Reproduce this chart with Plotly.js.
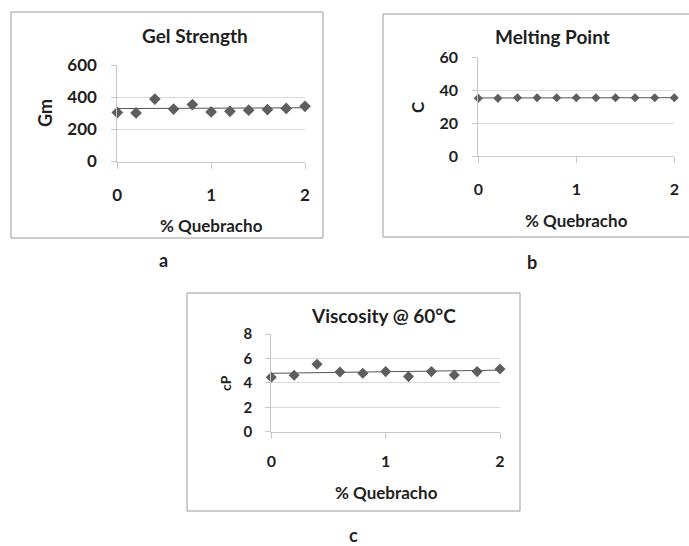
<!DOCTYPE html>
<html>
<head>
<meta charset="utf-8">
<script src="https://cdn.plot.ly/plotly-3.0.1.min.js"></script>
<style>html,body{margin:0;padding:0;background:#fff;}#chart{width:689px;height:546px;}</style>
</head>
<body>
<div id="chart"></div>
<script>
// ---- data ----
const quebracho = [0, 0.2, 0.4, 0.6, 0.8, 1.0, 1.2, 1.4, 1.6, 1.8, 2.0];
const gelStrength = [304, 302, 388, 326, 354, 308, 312, 319, 323, 330, 343];
const meltingPoint = [35.2, 35.2, 35.6, 35.6, 35.6, 35.6, 35.6, 35.6, 35.6, 35.6, 35.6];
const viscosity = [4.46, 4.62, 5.52, 4.89, 4.78, 4.92, 4.51, 4.92, 4.65, 4.92, 5.14];
const trendX = [0, 2];
const gelTrend = [329, 334];
const meltTrend = [35.4, 35.6];
const viscTrend = [4.78, 5.04];
const titles = ['Gel Strength', 'Melting Point', 'Viscosity @ 60°C'];
const yTitles = ['Gm', 'C', 'cP'];
const xTitle = '% Quebracho';
const panelLabels = ['a', 'b', 'c'];

// ---- layout helpers ----
const W = 689, H = 546;
const px = v => v / W;
const py = v => 1 - v / H;
const FONT = 'Lato, "Open Sans", sans-serif';
const TXT = '#1f1f1f';
const MK = '#5e5e5e';

function pts(x, y, xa, ya, size) {
  return {x: x, y: y, xaxis: xa, yaxis: ya, type: 'scatter', mode: 'markers', cliponaxis: false,
    marker: {symbol: 'diamond', size: size, color: MK}, hoverinfo: 'skip', showlegend: false};
}
function trend(y, xa, ya) {
  return {x: trendX, y: y, xaxis: xa, yaxis: ya, type: 'scatter', mode: 'lines', cliponaxis: false,
    line: {color: '#555', width: 1}, hoverinfo: 'skip', showlegend: false};
}
const data = [
  trend(gelTrend, 'x', 'y'), pts(quebracho, gelStrength, 'x', 'y', 9),
  trend(meltTrend, 'x2', 'y2'), pts(quebracho, meltingPoint, 'x2', 'y2', 7),
  trend(viscTrend, 'x3', 'y3'), pts(quebracho, viscosity, 'x3', 'y3', 8.5)
];

function xAx(dom, anchor, fs, standoff) {
  return {domain: dom, anchor: anchor, range: [0, 2], dtick: 1, tick0: 0, showgrid: false, zeroline: false,
    showline: true, linecolor: '#c8c8c8', linewidth: 1, ticks: 'outside', ticklen: 6, tickcolor: '#c8c8c8',
    ticklabelstandoff: standoff, tickfont: {family: FONT, size: fs, color: TXT, weight: 'bold'}, fixedrange: true};
}
function yAx(dom, anchor, range, dtick, fs, standoff) {
  return {domain: dom, anchor: anchor, range: range, dtick: dtick, tick0: 0, showgrid: true, gridcolor: '#dadada',
    gridwidth: 1, zeroline: false, showline: true, linecolor: '#c8c8c8', linewidth: 1, ticks: 'outside',
    ticklen: 5, tickcolor: '#c8c8c8', ticklabelstandoff: standoff,
    tickfont: {family: FONT, size: fs, color: TXT, weight: 'bold'}, fixedrange: true};
}

function ann(text, x, y, size, angle) {
  return {text: text, x: px(x), y: py(y), xref: 'paper', yref: 'paper', showarrow: false,
    xanchor: 'center', yanchor: 'middle', textangle: angle || 0,
    font: {family: FONT, size: size, color: TXT, weight: 'bold'}};
}

function box(x0, y0, x1, y1) {
  return {type: 'rect', xref: 'paper', yref: 'paper', x0: px(x0), x1: px(x1), y0: py(y1), y1: py(y0),
    line: {color: '#9a9a9a', width: 1}, fillcolor: 'rgba(0,0,0,0)', layer: 'below'};
}

const layout = {
  width: W, height: H, margin: {l: 0, r: 0, t: 0, b: 0}, paper_bgcolor: '#fff', plot_bgcolor: 'rgba(0,0,0,0)',
  showlegend: false,
  xaxis: xAx([px(117.3), px(305)], 'y', 17, 12),
  yaxis: yAx([py(161.5), py(65)], 'x', [0, 600], 200, 17, 11),
  xaxis2: xAx([px(478.3), px(674.3)], 'y2', 16, 13),
  yaxis2: yAx([py(156), py(57.7)], 'x2', [0, 60], 20, 16, 11),
  xaxis3: xAx([px(271.3), px(500)], 'y3', 16, 9),
  yaxis3: yAx([py(431.7), py(334)], 'x3', [0, 8], 2, 15, 10),
  shapes: [box(11, 12, 323, 238), box(383, 14, 700, 237), box(187, 293, 520, 511)],
  annotations: [
    ann(titles[0], 195, 35, 19), ann(yTitles[0], 45, 113, 18, -90), ann(xTitle, 211, 226, 17),
    ann(titles[1], 552, 37, 19), ann(yTitles[1], 418, 107, 17, -90), ann(xTitle, 576, 220, 17),
    ann(titles[2], 383, 315, 19), ann(yTitles[2], 225, 383, 14, -90), ann(xTitle, 386, 492, 17),
    ann(panelLabels[0], 163, 260, 18), ann(panelLabels[1], 532, 262, 18), ann(panelLabels[2], 353, 535, 18)
  ]
};

Plotly.newPlot('chart', data, layout, {staticPlot: true, displayModeBar: false});
</script>
</body>
</html>
